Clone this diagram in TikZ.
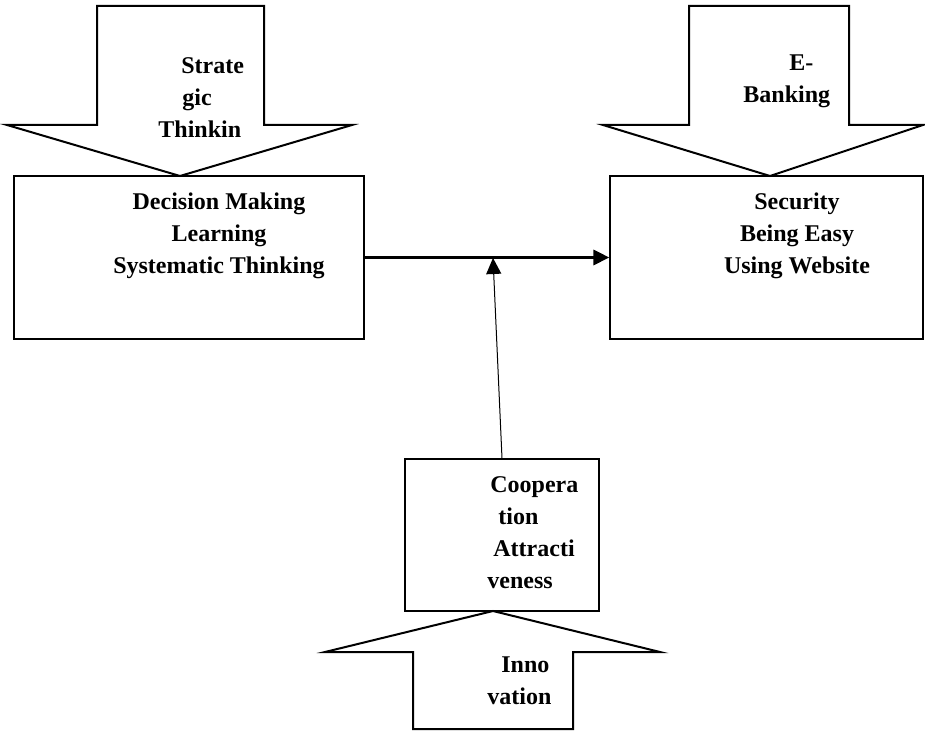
\documentclass[tikz,border=0pt]{standalone}
\usepackage{fontspec}
\setmainfont{Liberation Serif}
\usetikzlibrary{arrows.meta}

\begin{document}
\begin{tikzpicture}[x=0.5pt, y=-0.5pt,
    box/.style={draw, line width=0.6pt, inner sep=0pt},
    blockarrow/.style={draw, line width=1pt, line join=miter, fill=white},
    lbl/.style={inner sep=0pt, font=\fontsize{12}{16}\selectfont\bfseries}]
    \useasboundingbox (0,0) rectangle (925,731);

    % Block arrows
    \draw[blockarrow] (97,6) -- (264,6) -- (264,125) -- (352,125) -- (180,176)
        -- (7,125) -- (97,125) -- cycle;
    \draw[blockarrow] (689,6) -- (849,6) -- (849,125) -- (923,125) -- (770,176)
        -- (603,125) -- (689,125) -- cycle;
    \draw[blockarrow] (413,729) -- (573,729) -- (573,652) -- (660,652) -- (493,611)
        -- (325,652) -- (413,652) -- cycle;

    % Boxes
    \node[box, minimum width=175pt, minimum height=81.5pt] (decide) at (189,257.5) {};
    \node[box, minimum width=156.5pt, minimum height=81.5pt] (secure) at (766.5,257.5) {};
    \node[box, minimum width=97pt, minimum height=76pt] (coop) at (502,535) {};

    % Texts
    \node[lbl, anchor=north west, align=left] (strat) at (158,57)
        {\hspace*{11.5pt}Strate\\\hspace*{12pt}gic\\Thinkin};
    \node[lbl, anchor=north west, align=left] (ebank) at (743,54)
        {\hspace*{23pt}E-\\Banking};
    \node[lbl, anchor=north, align=center] (decidetext) at (219,192)
        {Decision Making\\Learning\\Systematic Thinking};
    \node[lbl, anchor=north, align=center] (securetext) at (797,192)
        {Security\\Being Easy\\Using Website};
    \node[lbl, anchor=north west, align=left] (cooptext) at (487,476)
        {\hspace*{1.5pt}Coopera\\\hspace*{5.5pt}tion\\\hspace*{3pt}Attracti\\veness};
    \node[lbl, anchor=north west, align=left] (innov) at (487,656)
        {\hspace*{7pt}Inno\\vation};

    % Edges
    \coordinate (join) at (493,258);
    \draw[line width=1.5pt, -{Triangle[length=8pt, width=7.5pt]}] (decide.east) -- (secure.west);
    \draw[line width=0.5pt, -{Triangle[length=8pt, width=7.5pt]}] (coop.north) -- (join);
\end{tikzpicture}
\end{document}
